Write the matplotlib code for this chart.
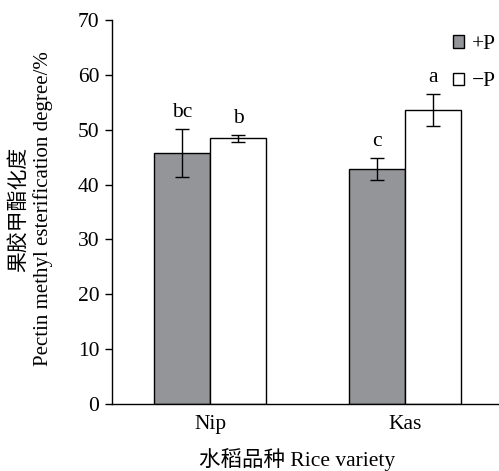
import matplotlib
matplotlib.use("Agg")
import matplotlib.pyplot as plt
import numpy as np

plt.rcParams['font.family'] = ['Liberation Serif', 'Noto Sans CJK SC']
plt.rcParams['mathtext.fontset'] = 'stix'

varieties = ["Nip", "Kas"]
plus_p = [45.7, 42.8]
plus_p_err = [4.4, 2.0]
minus_p = [48.4, 53.6]
minus_p_err = [0.6, 2.9]
plus_p_letters = ["bc", "c"]
minus_p_letters = ["b", "a"]
yticks = [0, 10, 20, 30, 40, 50, 60, 70]

fig = plt.figure(figsize=(4.99, 4.71), dpi=100)
ax = fig.add_axes([0.2244, 0.1423, 0.7756, 0.8152])

x = np.arange(len(varieties))
w = 0.287
ekw = dict(ecolor='black', elinewidth=1.0, capsize=5, capthick=1.0)
ax.bar(x - w/2, plus_p, w, yerr=plus_p_err, color='#939598', edgecolor='black',
       linewidth=1.0, error_kw=ekw, label='+P')
ax.bar(x + w/2, minus_p, w, yerr=minus_p_err, color='white', edgecolor='black',
       linewidth=1.0, error_kw=ekw, label='\u2212P')

for xi, v, e, t in zip(x - w/2, plus_p, plus_p_err, plus_p_letters):
    ax.text(xi, v + e + 1.3, t, ha='center', va='bottom', fontsize=15.5)
for xi, v, e, t in zip(x + w/2, minus_p, minus_p_err, minus_p_letters):
    ax.text(xi, v + e + 1.3, t, ha='center', va='bottom', fontsize=15.5)

ax.set_xlim(-0.503, 1.482)
ax.set_ylim(0, 70)
ax.set_yticks(yticks)
ax.set_xticks(x)
ax.set_xticklabels(varieties, fontsize=15.5)
ax.tick_params(axis='y', labelsize=15.5, direction='out', length=5, width=1, pad=4)
ax.tick_params(axis='x', length=0, pad=8)
for s in ['top', 'right']:
    ax.spines[s].set_visible(False)
for s in ['left', 'bottom']:
    ax.spines[s].set_linewidth(1.0)

leg = ax.legend(loc='upper left', bbox_to_anchor=(0.842, 1.0), frameon=False, fontsize=15.5,
                handlelength=0.5, handleheight=0.5, handletextpad=0.4, labelspacing=0.85,
                borderpad=0.2)

fig.text(0.036, 0.556, '果胶甲酯化度', rotation=90, ha='center', va='center', fontsize=15,
         family='Noto Sans CJK SC')
fig.text(0.086, 0.558, 'Pectin methyl esterification degree/%', rotation=90, ha='center',
         va='center', fontsize=15)
fig.text(0.596, 0.025, '水稻品种 Rice variety', ha='center', va='center', fontsize=15.5)

fig.savefig('out.png', dpi=100)
